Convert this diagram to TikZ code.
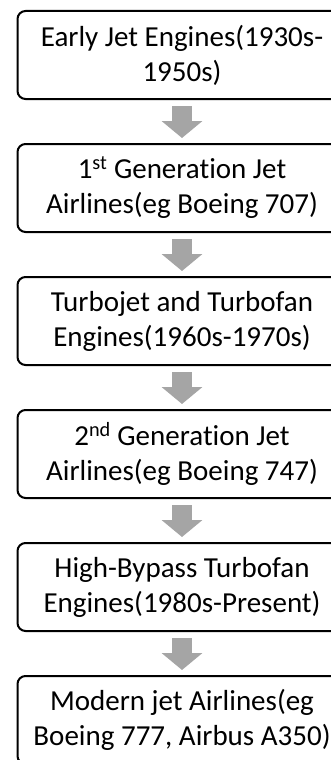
\documentclass[tikz,border=0pt]{standalone}
\usepackage{fontspec}
\setmainfont[Ligatures=NoCommon]{Carlito}
\usetikzlibrary{arrows.meta}
\definecolor{arrowgray}{RGB}{165,165,165}
\begin{document}
\begin{tikzpicture}[x=1pt,y=1pt,
  box/.style={draw=black, line width=2pt, rounded corners=8pt,
    minimum width=329pt, minimum height=88pt, anchor=north west,
    align=center, inner sep=0pt,
    font=\fontsize{29}{35}\selectfont},
  flow/.style={draw=arrowgray, line width=20pt,
    -{Triangle[width=40pt,length=17pt]}}]
\useasboundingbox (0,0) rectangle (331,-760);
\clip (0,0) rectangle (331,-760);
\node[box] (b1) at (16.5,-10)  {Early Jet Engines(1930s-\\1950s)};
\node[box] (b2) at (16.5,-143) {1\textsuperscript{st} Generation Jet\\Airlines(eg Boeing 707)};
\node[box] (b3) at (16.5,-276) {Turbojet and Turbofan\\Engines(1960s-1970s)};
\node[box] (b4) at (16.5,-409) {2\textsuperscript{nd} Generation Jet\\Airlines(eg Boeing 747)};
\node[box] (b5) at (16.5,-542) {High-Bypass Turbofan\\Engines(1980s-Present)};
\node[box] (b6) at (16.5,-675) {Modern jet Airlines(eg\\Boeing 777, Airbus A350)};
\draw[flow] ([yshift=-6pt]b1.south) -- ([yshift=5pt]b2.north);
\draw[flow] ([yshift=-6pt]b2.south) -- ([yshift=5pt]b3.north);
\draw[flow] ([yshift=-6pt]b3.south) -- ([yshift=5pt]b4.north);
\draw[flow] ([yshift=-6pt]b4.south) -- ([yshift=5pt]b5.north);
\draw[flow] ([yshift=-6pt]b5.south) -- ([yshift=5pt]b6.north);
\end{tikzpicture}
\end{document}
